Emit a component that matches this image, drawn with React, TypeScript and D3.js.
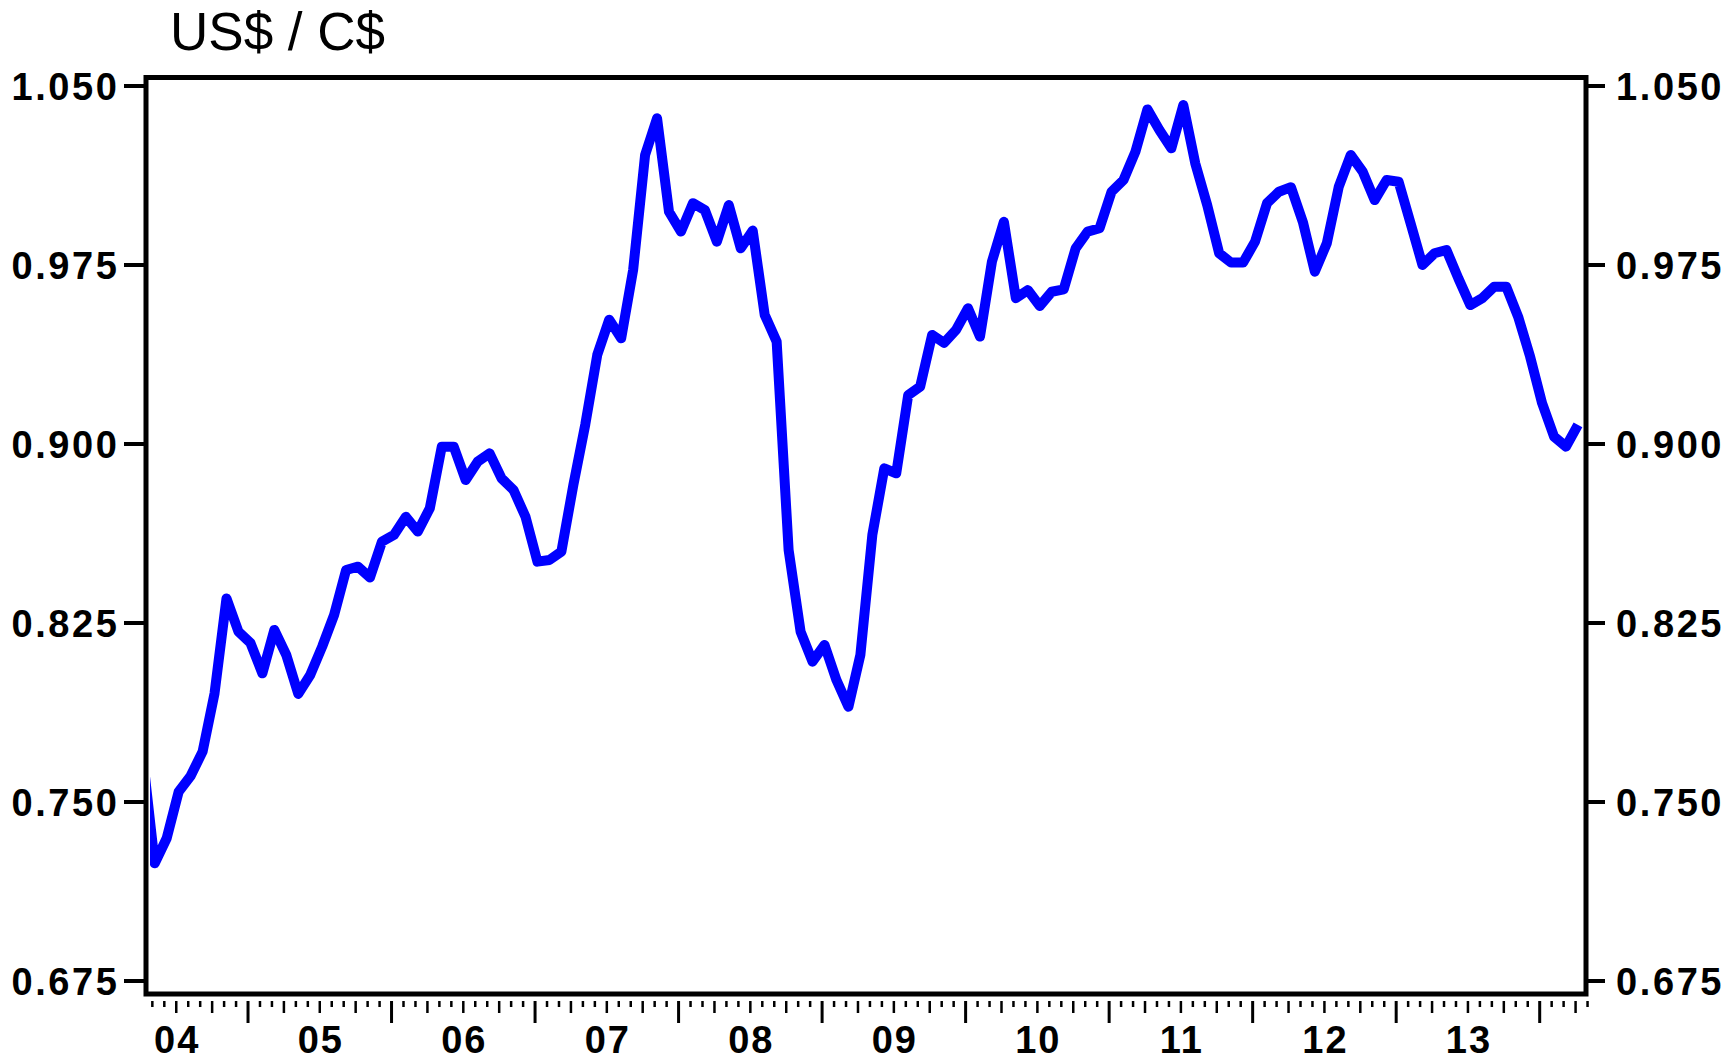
import React from "react";
import * as d3 from "d3";

// Monthly US$ per C$, starting April 2004 (month index 3 = Apr 2004)
const startMonthIndex = 3;
const usdPerCad: number[] = [
  0.769, 0.7243, 0.7348, 0.7543, 0.7609, 0.7711, 0.7955, 0.8353, 0.8214,
  0.8167, 0.8039, 0.8221, 0.8116, 0.7953, 0.8032, 0.8151, 0.8284, 0.8472,
  0.8486, 0.8441, 0.8591, 0.8619, 0.8695, 0.8633, 0.8731, 0.8989, 0.8989,
  0.8849, 0.8926, 0.8961, 0.8856, 0.8807, 0.8695, 0.8507, 0.8514, 0.8549,
  0.8828, 0.9082, 0.9373, 0.9521, 0.9443, 0.9729, 1.0211, 1.0365, 0.9973,
  0.989, 1.0009, 0.998, 0.9848, 1.0001, 0.982, 0.9894, 0.9541, 0.9429,
  0.8556, 0.8214, 0.8088, 0.8158, 0.8011, 0.7899, 0.8116, 0.8619, 0.8898,
  0.8877, 0.9205, 0.924, 0.9457, 0.9424, 0.9478, 0.9569, 0.945, 0.9764,
  0.9931, 0.9611, 0.9645, 0.9578, 0.9638, 0.9648, 0.982, 0.989, 0.9904,
  1.0057, 1.0106, 1.0225, 1.0402, 1.0316, 1.0239, 1.042, 1.0176, 1.0001,
  0.9799, 0.976, 0.976, 0.9848, 1.0009, 1.0057, 1.0076, 0.993, 0.9722,
  0.9841, 1.0078, 1.0211, 1.0141, 1.0022, 1.0106, 1.0099, 0.9925, 0.975,
  0.9799, 0.9813, 0.9694, 0.9582, 0.9611, 0.9659, 0.9659, 0.9533, 0.9366,
  0.9171, 0.9031, 0.8989, 0.908,
];

const yTicks: number[] = [0.675, 0.75, 0.825, 0.9, 0.975, 1.05];
const yearLabels: string[] = ["04", "05", "06", "07", "08", "09", "10", "11", "12", "13"];
const title = "US$ / C$";

const W = 1729;
const H = 1060;
const FRAME = { left: 146, right: 1586, top: 77.5, bottom: 994 };
const FONT = "'Liberation Sans', Arial, Helvetica, sans-serif";

export default function App() {
  // months since Jan 2004
  const x = d3.scaleLinear().domain([0, 120]).range([104.5, 104.5 + 120 * 11.96]);
  const y = d3.scaleLinear().domain([0.675, 1.05]).range([981, 86]);

  const pts = usdPerCad.map((v, i) => ({ m: startMonthIndex + i + 0.2, v }));
  const line = d3
    .line<{ m: number; v: number }>()
    .x((d) => x(d.m))
    .y((d) => y(d.v));

  const monthTicks = d3.range(4, 125);
  const fmt = d3.format(".3f");

  return (
    <svg
      width={W}
      height={H}
      style={{ position: "absolute", left: 0, top: 0, background: "#fff" }}
      fontFamily={FONT}
    >
      <defs>
        <clipPath id="plotclip">
          <rect
            x={FRAME.left + 4}
            y={FRAME.top + 2.5}
            width={FRAME.right - FRAME.left - 6.5}
            height={FRAME.bottom - FRAME.top - 5}
          />
        </clipPath>
      </defs>

      <text x={170} y={50} fontSize={53} fill="#000">
        {title}
      </text>

      {/* y ticks left and right */}
      {yTicks.map((t) => (
        <g key={t}>
          <line x1={124} x2={FRAME.left} y1={y(t)} y2={y(t)} stroke="#000" strokeWidth={4} />
          <line x1={FRAME.right} x2={1605} y1={y(t)} y2={y(t)} stroke="#000" strokeWidth={4} />
          <text
            x={119.5}
            y={y(t)}
            dy="0.36em"
            textAnchor="end"
            fontSize={38}
            fontWeight="bold"
            letterSpacing={2.6}
            fill="#000"
          >
            {fmt(t)}
          </text>
          <text
            x={1616}
            y={y(t)}
            dy="0.36em"
            textAnchor="start"
            fontSize={38}
            fontWeight="bold"
            letterSpacing={2.6}
            fill="#000"
          >
            {fmt(t)}
          </text>
        </g>
      ))}

      {/* x month ticks */}
      {monthTicks.map((m) => {
        const len = m % 12 === 0 ? 22 : m % 3 === 0 ? 12 : 6;
        const sw = m % 12 === 0 ? 3 : 2.5;
        return (
          <line
            key={m}
            x1={x(m)}
            x2={x(m)}
            y1={1001}
            y2={1001 + len}
            stroke="#000"
            strokeWidth={sw}
          />
        );
      })}

      {yearLabels.map((lab, i) => (
        <text
          key={lab}
          x={x(i * 12 + 6) + 1}
          y={1053}
          textAnchor="middle"
          fontSize={38}
          fontWeight="bold"
          letterSpacing={2}
          fill="#000"
        >
          {lab}
        </text>
      ))}

      <path
        d={line(pts) || ""}
        fill="none"
        stroke="#0000ff"
        strokeWidth={10}
        strokeLinejoin="round"
        clipPath="url(#plotclip)"
      />

      <rect
        x={FRAME.left}
        y={FRAME.top}
        width={FRAME.right - FRAME.left}
        height={FRAME.bottom - FRAME.top}
        fill="none"
        stroke="#000"
        strokeWidth={5}
      />
    </svg>
  );
}
